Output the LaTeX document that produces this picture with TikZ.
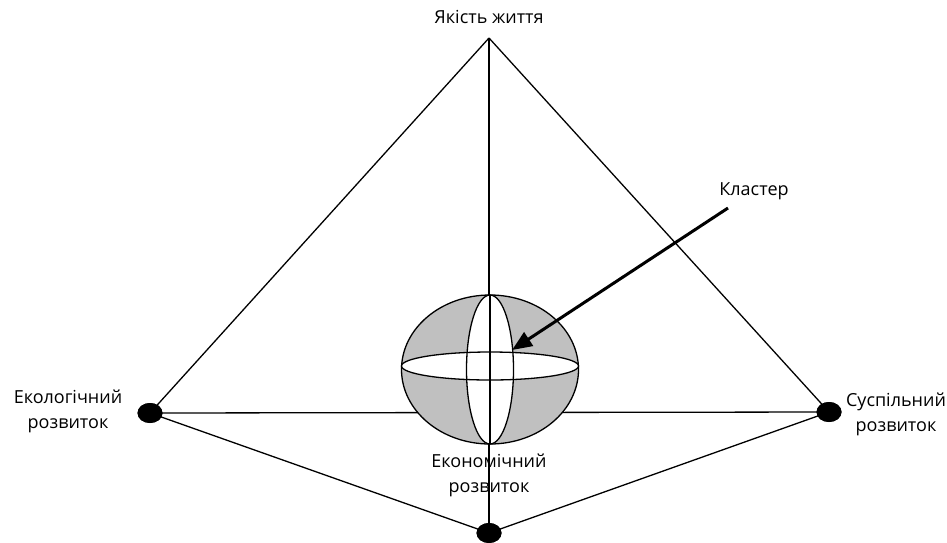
\documentclass[tikz,border=0pt]{standalone}
\usepackage{fontspec}
\setmainfont{Open Sans}
\begin{document}
\begin{tikzpicture}[x=1pt,y=-1pt,
  edge/.style={line width=1.3pt},
  dot/.style={ellipse,fill=black,minimum width=25pt,minimum height=20pt,inner sep=0pt},
  lbl/.style={font=\fontsize{18}{25}\selectfont,align=center,inner sep=0pt}]
\usetikzlibrary{shapes.geometric,arrows.meta}
\useasboundingbox (0,0) rectangle (947,542);
\coordinate (A) at (489,38);
\node[dot] (L) at (150,413) {};
\node[dot] (R) at (829,412) {};
\node[dot] (B) at (489,533) {};
\draw[edge] (A) -- (L.center);
\draw[edge] (A) -- (R.center);
\draw[edge] (A) -- (B.center);
\draw[edge] (L.center) -- (R.center);
\draw[edge] (L.center) -- (B.center);
\draw[edge] (R.center) -- (B.center);
\node[dot] at (L) {};
\node[dot] at (R) {};
\node[dot] at (B) {};
% cluster
\coordinate (C) at (490,369.5);
\coordinate (H) at (490,366);
\draw[edge,fill={rgb,255:red,192;green,192;blue,192}] (C) ellipse [x radius=88.5,y radius=74.5];
\fill[white] (H) ellipse [x radius=88.5,y radius=14];
\fill[white] (C) ellipse [x radius=23.5,y radius=74.5];
\draw[edge] (H) ellipse [x radius=88.5,y radius=14];
\draw[edge] (C) ellipse [x radius=23.5,y radius=74.5];
\draw[edge] (490,295) -- (490,444);
\node[lbl] (t) at (489,17) {Якість життя};
\node[lbl] (k) at (754,191) {Кластер};
\coordinate (ks) at (728,208);
\coordinate (ke) at (512,350);
\draw[line width=3pt,-{Triangle[length=20pt,width=16pt]}] (ks) -- (ke);
\node[lbl] (el) at (68,411) {Екологічний\\розвиток};
\node[lbl] (sl) at (896,414) {Суспільний\\розвиток};
\node[lbl] (ec) at (489,475) {Економічний\\розвиток};
\end{tikzpicture}
\end{document}
